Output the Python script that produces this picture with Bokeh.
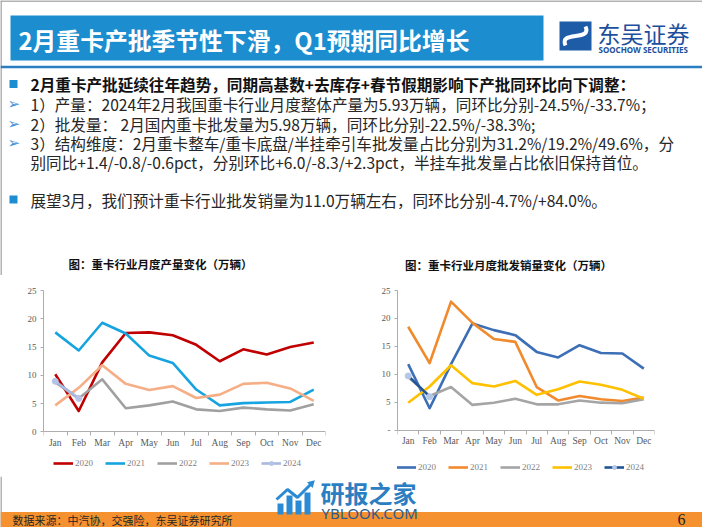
from bokeh.plotting import figure
from bokeh.models import Range1d, FixedTicker, Legend, LegendItem
from bokeh.layouts import column, row
from bokeh.embed import file_html
from bokeh.resources import INLINE
from bokeh.core.properties import value

# ---------------- data ----------------
months = ["Jan", "Feb", "Mar", "Apr", "May", "Jun", "Jul", "Aug", "Sep", "Oct", "Nov", "Dec"]
years = ["2020", "2021", "2022", "2023", "2024"]

prod_2020 = [10.2, 3.7, 12.3, 17.5, 17.6, 17.1, 15.4, 12.5, 14.6, 13.7, 15.0, 15.8]
prod_2021 = [17.6, 14.4, 19.3, 17.4, 13.5, 12.2, 7.5, 4.7, 5.1, 5.2, 5.3, 7.5]
prod_2022 = [8.8, 5.9, 9.3, 4.2, 4.7, 5.4, 4.0, 3.7, 4.3, 4.0, 3.8, 4.9]
prod_2023 = [4.7, 7.8, 11.8, 8.5, 7.4, 8.1, 6.0, 6.6, 8.5, 8.7, 7.7, 5.5]
prod_2024 = [8.95, 5.93]

sales_2020 = [11.8, 3.9, 11.8, 19.1, 17.9, 17.0, 14.0, 13.0, 15.2, 13.8, 13.7, 11.0]
sales_2021 = [18.5, 12.0, 23.0, 19.2, 16.3, 15.8, 7.7, 5.3, 6.1, 5.5, 5.2, 5.8]
sales_2022 = [9.5, 6.1, 7.7, 4.5, 4.9, 5.6, 4.6, 4.6, 5.3, 4.9, 4.8, 5.5]
sales_2023 = [4.9, 7.8, 11.6, 8.4, 7.8, 8.8, 6.3, 7.3, 8.7, 8.1, 7.2, 5.6]
sales_2024 = [9.69, 5.98]

y_ticks = [0, 5, 10, 15, 20, 25]

title_text = "2月重卡产批季节性下滑，Q1预期同比增长"
bullet_head = "2月重卡产批延续往年趋势，同期高基数+去库存+春节假期影响下产批同环比向下调整："
detail_lines = [
    "1）产量：2024年2月我国重卡行业月度整体产量为5.93万辆，同环比分别-24.5%/-33.7%；",
    "2）批发量： 2月国内重卡批发量为5.98万辆，同环比分别-22.5%/-38.3%;",
    "3）结构维度：2月重卡整车/重卡底盘/半挂牵引车批发量占比分别为31.2%/19.2%/49.6%，分",
    "别同比+1.4/-0.8/-0.6pct，分别环比+6.0/-8.3/+2.3pct，半挂车批发量占比依旧保持首位。",
]
outlook_text = "展望3月，我们预计重卡行业批发销量为11.0万辆左右，同环比分别-4.7%/+84.0%。"
chart_titles = ["图：重卡行业月度产量变化（万辆）", "图：重卡行业月度批发销量变化（万辆）"]
source_text = "数据来源：中汽协，交强险，东吴证券研究所"
page_no = "6"

CJK = "Noto Sans CJK SC"
SERIF = "Liberation Serif"
BLUE = "#1C8DCF"
TXT = "#262626"


def canvas(w, h, y0, y1, x0=0, x1=702):
    p = figure(width=w, height=h, x_range=Range1d(x0, x1), y_range=Range1d(y1, y0),
               x_axis_type=None, y_axis_type=None, output_backend="svg",
               toolbar_location=None, min_border=0)
    p.grid.visible = False
    p.outline_line_color = None
    return p


# ---------------- header + text ----------------
top = canvas(702, 275, 0, 275)
top.segment(x0=[0.5, 0], y0=[0, 0.5], x1=[0.5, 702], y1=[275, 0.5], line_color="#9A9A9A", line_width=1.5)
top.quad(left=[10], right=[543], top=[15], bottom=[60], fill_color=BLUE, line_color=None)
top.text(x=[18], y=[38.5], text=[title_text], text_font=value(CJK), text_font_size="23.8px",
         text_font_style="bold", text_color="white", text_baseline="middle")
# logo
top.quad(left=[559], right=[591], top=[21], bottom=[50], fill_color="#1F5CA8", line_color=None)
top.bezier(x0=[565], y0=[45], x1=[585], y1=[26], cx0=[558], cy0=[30], cx1=[592], cy1=[41],
           line_color="white", line_width=4)
top.text(x=[597], y=[32], text=["东吴证券"], text_font=value(CJK), text_font_size="23px",
         text_color="#1C4F9C", text_baseline="middle")
top.text(x=[598], y=[49], text=["SOOCHOW SECURITIES"], text_font=value("Noto Sans"),
         text_font_size="8px", text_font_style="bold", text_color="#1C4F9C", text_baseline="middle")
top.segment(x0=[0], y0=[66.5], x1=[702], y1=[66.5], line_color="#2A7DC0", line_width=2.5)

# bullets
top.scatter(x=[13, 13], y=[83.5, 199], marker="square", size=8, fill_color=BLUE, line_color=None)
top.text(x=[7, 7, 7], y=[103, 123, 142], text=["➢", "➢", "➢"], text_font=value("DejaVu Sans"),
         text_font_size="15px", text_color="#3D8FD8", text_baseline="middle")
top.text(x=[30], y=[83.5], text=[bullet_head], text_font=value(CJK), text_font_size="15.6px",
         text_font_style="bold", text_color="#111111", text_baseline="middle")
top.text(x=[30] * len(detail_lines), y=[103, 123, 142, 161], text=detail_lines,
         text_font=value(CJK), text_font_size="15.6px", text_color=TXT, text_baseline="middle")
top.text(x=[30], y=[199], text=[outlook_text], text_font=value(CJK), text_font_size="15.6px",
         text_color=TXT, text_baseline="middle")
# chart titles
top.text(x=[160, 508], y=[263, 264], text=chart_titles, text_font=value(CJK), text_font_size="11.5px",
         text_font_style="bold", text_color="#111111", text_baseline="middle", text_align="center")


# ---------------- charts ----------------
xs = [i + 1 for i in range(len(months))]


def chart(series, colors, marker_color, bl, br, bt, ymin, overrides, leg_x, leg_y):
    p = figure(width=351, height=201, x_range=Range1d(0.5, 12.5), y_range=Range1d(ymin, 25),
               output_backend="svg", toolbar_location=None,
               min_border_left=bl, min_border_right=br, min_border_top=bt, min_border_bottom=0)
    p.grid.visible = False
    p.outline_line_color = None
    xa = p.xaxis[0]
    xa.fixed_location = 0
    xa.ticker = FixedTicker(ticks=xs, minor_ticks=[0.5 + i for i in range(13)])
    xa.major_label_overrides = {x: m for x, m in zip(xs, months)}
    xa.major_tick_out = 0
    xa.major_tick_in = 0
    xa.minor_tick_out = 4
    xa.minor_tick_in = 0
    xa.major_label_standoff = 2
    ya = p.yaxis[0]
    ya.bounds = (0, 25)
    ya.ticker = FixedTicker(ticks=y_ticks)
    ya.major_label_overrides = overrides
    ya.major_tick_out = 3
    ya.major_tick_in = 0
    ya.minor_tick_out = 0
    ya.minor_tick_in = 0
    ya.major_label_standoff = 4
    for ax in (xa, ya):
        ax.axis_line_color = "#ADADAD"
        ax.major_tick_line_color = "#ADADAD"
        ax.minor_tick_line_color = "#ADADAD"
        ax.major_label_text_font = SERIF
        ax.major_label_text_color = "#595959"
    xa.major_label_text_font_size = "9.5px"
    ya.major_label_text_font_size = "9px"

    items = []
    for yr, ys, c in zip(years, series, colors):
        r = p.line(xs[:len(ys)], ys, line_color=c, line_width=2.6, line_join="round")
        rs = [r]
        if yr == years[-1]:
            rs.append(p.scatter(xs[:len(ys)], ys, marker="circle", size=6,
                                fill_color=marker_color, line_color=marker_color))
        items.append(LegendItem(label=yr, renderers=rs))
    leg = Legend(items=items, orientation="horizontal", location=(leg_x, leg_y),
                 border_line_color=None, background_fill_alpha=0,
                 label_text_font=SERIF, label_text_font_size="9px", label_text_color="#7F7F7F",
                 glyph_width=20, glyph_height=10, label_height=10, label_standoff=2,
                 spacing=10, padding=0, margin=0)
    p.add_layout(leg, "center")
    return p


left = chart([prod_2020, prod_2021, prod_2022, prod_2023, prod_2024],
             ["#C00000", "#16A4E0", "#A0A0A0", "#F5AE85", "#A8B8DE"], "#B4C3E6",
             43, 26, 13, -7.87, {}, 10, 8)
right = chart([sales_2020, sales_2021, sales_2022, sales_2023, sales_2024],
              ["#3D6FB6", "#F08A2C", "#A5A5A5", "#FFC000", "#1F5596"], "#B4C7E7",
              46, 48, 15, -8.33, {0: "-"}, -1, 4)

# ---------------- footer ----------------
foot = canvas(702, 51, 476, 527)
foot.segment(x0=[0.5], y0=[476], x1=[0.5], y1=[527], line_color="#9A9A9A", line_width=1.5)
foot.quad(left=[0], right=[702], top=[511.5], bottom=[527], fill_color="#F5922F", line_color=None)
foot.text(x=[12], y=[519], text=[source_text], text_font=value(CJK), text_font_size="11px",
          text_color=TXT, text_baseline="middle")
foot.text(x=[681], y=[519], text=[page_no], text_font=value(SERIF), text_font_size="16px",
          text_color="#222222", text_baseline="middle", text_align="center")
# watermark
foot.quad(left=[277, 286, 295, 304], right=[283, 292, 301, 310], top=[503, 495, 500, 492],
          bottom=[514, 514, 514, 514], fill_color="#2A8AD4", line_color=None)
foot.line(x=[276, 287, 297, 311], y=[499, 489, 497, 483], line_color="#2A8AD4", line_width=3)
foot.scatter(x=[311], y=[483], marker="triangle", size=8, angle=-0.8, fill_color="#2A8AD4",
             line_color=None)
foot.text(x=[320], y=[492], text=["研报之家"], text_font=value(CJK), text_font_size="24px",
          text_font_style="bold", text_color="#2B7EC1", text_baseline="middle")
foot.text(x=[321], y=[512], text=["YBLOOK.COM"], text_font=value("Noto Sans"), text_font_size="15px",
          text_color="#2E5B8A", text_baseline="middle")

layout = column(top, row(left, right, spacing=0), foot, spacing=0)
open("out.html", "w").write(file_html(layout, INLINE))
